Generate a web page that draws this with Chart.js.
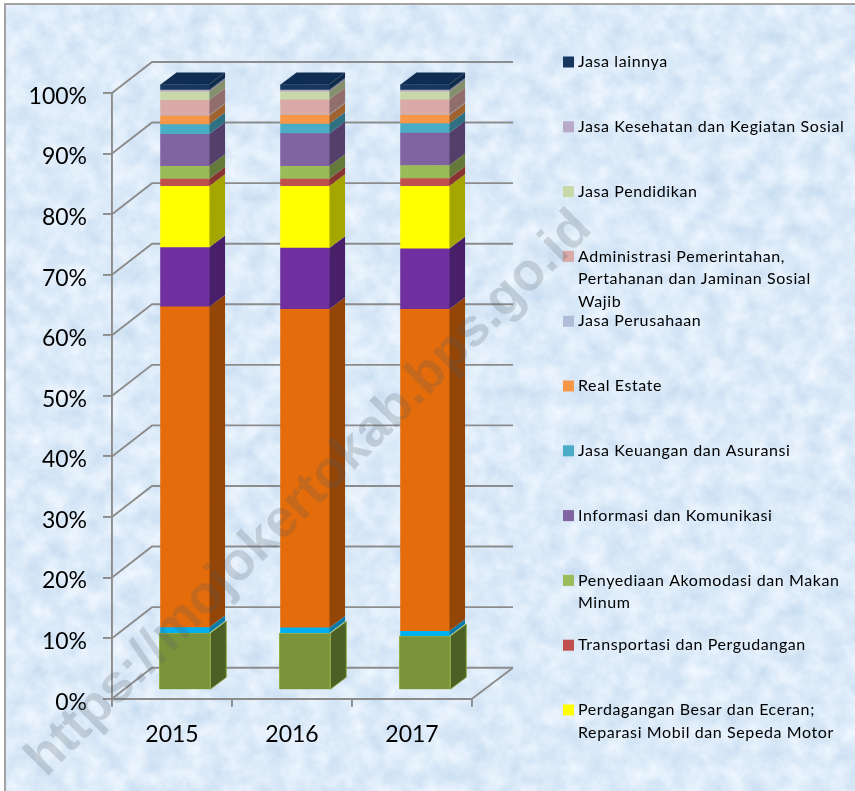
<!DOCTYPE html>
<html>
<head>
<meta charset="utf-8">
<script src="https://cdn.jsdelivr.net/npm/chart.js@4"></script>
<style>
html,body{margin:0;padding:0;background:#fff;width:855px;height:791px;overflow:hidden}
#bg{position:absolute;left:4px;top:3px;width:851px;height:788px;border-left:2px solid #a3a3a3;border-top:2px solid #a3a3a3;
background-color:#dce9f6;
background-image:url("data:image/svg+xml;utf8,<svg xmlns='http://www.w3.org/2000/svg' width='855' height='791'><filter id='n' x='0' y='0' width='100%' height='100%' color-interpolation-filters='sRGB'><feTurbulence type='fractalNoise' baseFrequency='0.05' numOctaves='5' seed='7'/><feColorMatrix type='matrix' values='0.2 0 0 0 0.765  0.13 0 0 0 0.855  0.07 0 0 0 0.94  0 0 0 0 1'/></filter><rect width='855' height='791' filter='url(%23n)'/></svg>");}
#c{position:absolute;left:0;top:0}
</style>
</head>
<body>
<div id="bg"></div>
<canvas id="c" width="855" height="791"></canvas>
<script>
const categories = ['2015', '2016', '2017'];
const pertanian = [9.45, 9.4, 8.95];
const pertambangan = [0.9, 0.9, 0.8];
const industri = [52.95, 52.6, 53.15];
const konstruksi = [9.8, 10.1, 10.0];
const perdagangan = [10.1, 10.2, 10.3];
const transportasi = [1.2, 1.2, 1.3];
const akomodasi = [2.1, 2.1, 2.15];
const informasi = [5.3, 5.4, 5.35];
const keuangan = [1.6, 1.6, 1.55];
const realEstate = [1.45, 1.45, 1.4];
const perusahaan = [0.1, 0.1, 0.1];
const administrasi = [2.45, 2.45, 2.45];
const pendidikan = [1.4, 1.3, 1.3];
const kesehatan = [0.3, 0.3, 0.3];
const lainnya = [0.9, 0.9, 0.9];
const watermark = 'https://mojokertokab.bps.go.id';

const GRID = '#8c8c8c';
const WALL = {dx: 40, dy: -31};
const BAR_SHIFT = {dx: 12.8, dy: -8.4};
const DEPTH = {dx: 16, dy: -12};
const F = 'Lato, Carlito, sans-serif';

const ds = (label, data, color, side, legend, extra) => Object.assign({
  label, data, backgroundColor: color, sideColor: side, legendLines: legend,
  barThickness: 48.5, clip: false, borderWidth: 0
}, extra || {});

const datasets = [
  ds('Seri 1', pertanian, '#7a933b', '#4c5f25', null, {barThickness: 51, borderWidth: 1, borderColor: '#90ad48'}),
  ds('Seri 2', pertambangan, '#00b0f0', '#0a7aa6', null),
  ds('Seri 3', industri, '#e46c0a', '#944608', null),
  ds('Seri 4', konstruksi, '#7030a0', '#481f68', null),
  ds('Perdagangan', perdagangan, '#ffff00', '#a6a600', ['Perdagangan Besar dan Eceran;', 'Reparasi Mobil dan Sepeda Motor']),
  ds('Transportasi', transportasi, '#c0504d', '#8a3432', ['Transportasi dan Pergudangan']),
  ds('Akomodasi', akomodasi, '#9bbb59', '#65793a', ['Penyediaan Akomodasi dan Makan', 'Minum']),
  ds('Informasi', informasi, '#8064a2', '#533f69', ['Informasi dan Komunikasi']),
  ds('Keuangan', keuangan, '#4bacc6', '#2f7082', ['Jasa Keuangan dan Asuransi']),
  ds('Real Estate', realEstate, '#f79646', '#a0622e', ['Real Estate']),
  ds('Perusahaan', perusahaan, '#b0bcd8', '#77809a', ['Jasa Perusahaan']),
  ds('Administrasi', administrasi, '#d9aaa7', '#916e6c', ['Administrasi Pemerintahan,', 'Pertahanan dan Jaminan Sosial', 'Wajib']),
  ds('Pendidikan', pendidikan, '#c8d8a8', '#84906c', ['Jasa Pendidikan']),
  ds('Kesehatan', kesehatan, '#b8a9c9', '#7c7089', ['Jasa Kesehatan dan Kegiatan Sosial']),
  ds('Lainnya', lainnya, '#17375e', '#0f2b4b', ['Jasa lainnya'], {topColor: '#0f2d50'})
];

const scene3d = {
  id: 'scene3d',
  beforeDatasetsDraw(chart) {
    const {ctx, scales: {x, y}, chartArea: a} = chart;
    ctx.save();
    ctx.strokeStyle = GRID; ctx.lineWidth = 1.9;
    y.ticks.forEach(t => {
      const py = y.getPixelForValue(t.value);
      ctx.beginPath();
      ctx.moveTo(a.left, py);
      ctx.lineTo(a.left + WALL.dx, py + WALL.dy);
      ctx.lineTo(a.right + WALL.dx + 1, py + WALL.dy);
      ctx.stroke();
    });
    ctx.beginPath();
    ctx.moveTo(a.right, a.bottom);
    ctx.lineTo(a.right + WALL.dx + 1, a.bottom + WALL.dy);
    ctx.stroke();
    ctx.restore();
    ctx.save();
    ctx.translate(BAR_SHIFT.dx, BAR_SHIFT.dy);
    chart.data.datasets.forEach((d, i) => {
      chart.getDatasetMeta(i).data.forEach(b => {
        const right = b.x + b.width / 2, left = b.x - b.width / 2;
        ctx.fillStyle = d.sideColor;
        ctx.beginPath();
        ctx.moveTo(right, b.y);
        ctx.lineTo(right, b.base);
        ctx.lineTo(right + DEPTH.dx, b.base + DEPTH.dy);
        ctx.lineTo(right + DEPTH.dx, b.y + DEPTH.dy);
        ctx.closePath();
        ctx.fill();
        if (d.borderWidth) { ctx.strokeStyle = d.borderColor; ctx.lineWidth = 1; ctx.stroke(); }
        if (d.topColor) {
          ctx.fillStyle = d.topColor;
          ctx.beginPath();
          ctx.moveTo(left, b.y);
          ctx.lineTo(right, b.y);
          ctx.lineTo(right + DEPTH.dx, b.y + DEPTH.dy);
          ctx.lineTo(left + DEPTH.dx, b.y + DEPTH.dy);
          ctx.closePath();
          ctx.fill();
        }
      });
    });
  },
  afterDatasetsDraw(chart) { chart.ctx.restore(); },
  afterDraw(chart) {
    const {ctx} = chart;
    ctx.save();
    ctx.textBaseline = 'middle';
    ctx.font = '16px ' + F;
    ctx.letterSpacing = '0.6px';
    const shown = chart.data.datasets.filter(d => d.legendLines).reverse();
    shown.forEach((d, i) => {
      const yy = 62 + i * 64.8;
      ctx.fillStyle = d.backgroundColor;
      ctx.fillRect(563, yy - 5.5, 11, 11);
      ctx.fillStyle = '#000';
      d.legendLines.forEach((ln, k) => ctx.fillText(ln, 578, yy + k * 22.5));
    });
    ctx.restore();
    ctx.save();
    ctx.translate(46, 778);
    ctx.rotate(-Math.PI / 4);
    ctx.font = 'bold 53px "Liberation Sans", Arial, sans-serif';
    ctx.fillStyle = 'rgba(80,90,100,0.22)';
    ctx.fillText(watermark, 0, 0);
    ctx.restore();
  }
};

new Chart(document.getElementById('c'), {
  type: 'bar',
  data: {labels: categories, datasets},
  plugins: [scene3d],
  options: {
    responsive: false,
    animation: false,
    layout: {padding: {left: 0, right: 383, top: 93, bottom: 0}},
    plugins: {legend: {display: false}, title: {display: false}, tooltip: {enabled: false}},
    scales: {
      x: {
        stacked: true,
        afterFit: s => { s.height = 92.3; },
        border: {color: GRID, width: 1.9},
        grid: {color: GRID, lineWidth: 1.9, drawOnChartArea: false, tickLength: 8},
        ticks: {color: '#000', font: {family: F, size: 23}, padding: 14, maxRotation: 0}
      },
      y: {
        stacked: true, min: 0, max: 100,
        afterFit: s => { s.width = 112; },
        border: {color: GRID, width: 1.9},
        grid: {color: GRID, lineWidth: 1.9, drawOnChartArea: false, tickLength: 9},
        ticks: {color: '#000', font: {family: F, size: 23}, stepSize: 10, padding: 16, labelOffset: 3.5, callback: v => v + '%'}
      }
    }
  }
});
</script>
</body>
</html>
